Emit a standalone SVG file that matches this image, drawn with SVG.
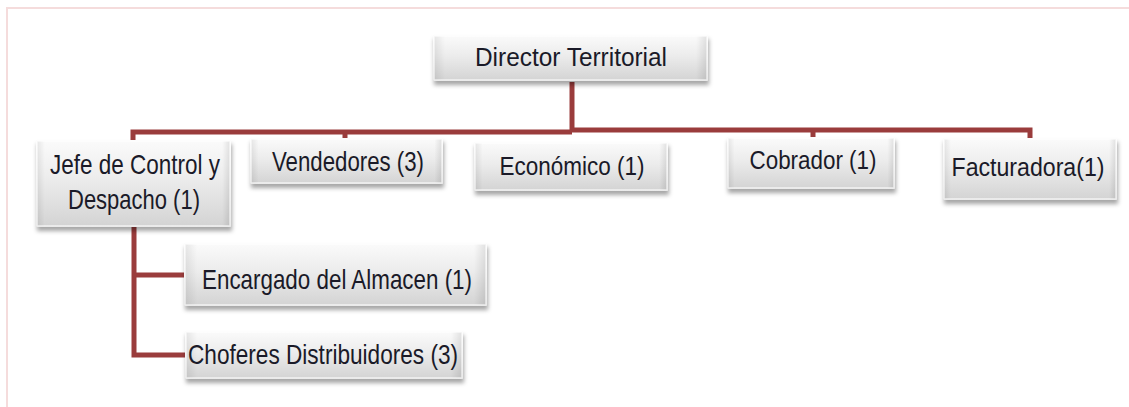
<svg xmlns="http://www.w3.org/2000/svg" width="1129" height="407" viewBox="0 0 1129 407">
<defs>
<linearGradient id="g" x1="0" y1="0" x2="0" y2="1">
<stop offset="0" stop-color="#fbfbfb"/>
<stop offset="0.45" stop-color="#ececec"/>
<stop offset="1" stop-color="#d3d3d3"/>
</linearGradient>
<linearGradient id="side" x1="0" y1="0" x2="1" y2="0">
<stop offset="0" stop-color="#000" stop-opacity="0.08"/>
<stop offset="0.04" stop-color="#000" stop-opacity="0"/>
<stop offset="0.96" stop-color="#000" stop-opacity="0"/>
<stop offset="1" stop-color="#000" stop-opacity="0.1"/>
</linearGradient>
<filter id="sh" x="-10%" y="-20%" width="120%" height="150%">
<feDropShadow dx="1" dy="4" stdDeviation="2" flood-color="#000" flood-opacity="0.35"/>
</filter>
</defs>
<style>
.box{fill:url(#g);filter:url(#sh)}
.bev{fill:url(#side);stroke:#ffffff;stroke-opacity:0.7;stroke-width:1.5}
.t{font-family:"Liberation Sans",Arial,sans-serif;fill:#1a1a28;text-anchor:middle}
.c{fill:none;stroke:#9a3c3c;stroke-width:5;stroke-linejoin:miter}
.frame{fill:none;stroke:#f5dcdc;stroke-width:2}
</style>
<rect width="1129" height="407" fill="#ffffff"/>
<path class="frame" d="M7,407 V8 H1129"/>
<g id="connectors">
<path class="c" d="M572,82 V132"/>
<path class="c" d="M133,145 V132 H572"/>
<path class="c" d="M570,130 H1030 V142"/>
<path class="c" d="M345,132 V142"/>
<path class="c" d="M813,130 V142"/>
<path class="c" d="M134,226 V355 H188"/>
<path class="c" d="M134,275 H188"/>
</g>
<g id="n-director">
<rect class="box" x="433" y="35" width="275" height="46"/>
<rect class="bev" x="434" y="36" width="273" height="44"/>
<text class="t" x="571" y="66" font-size="25" textLength="192" lengthAdjust="spacingAndGlyphs">Director Territorial</text>
</g>
<g id="n-jefe">
<rect class="box" x="36" y="140" width="195" height="87"/>
<rect class="bev" x="37" y="141" width="193" height="85"/>
<text class="t" x="135" y="174" font-size="28.5" textLength="170" lengthAdjust="spacingAndGlyphs">Jefe de Control y</text>
<text class="t" x="134" y="209" font-size="28.5" textLength="132" lengthAdjust="spacingAndGlyphs">Despacho (1)</text>
</g>
<g id="n-vendedores">
<rect class="box" x="250" y="138" width="193" height="46"/>
<rect class="bev" x="251" y="139" width="191" height="44"/>
<text class="t" x="348" y="171" font-size="28.5" textLength="152" lengthAdjust="spacingAndGlyphs">Vendedores (3)</text>
</g>
<g id="n-economico">
<rect class="box" x="474" y="142" width="194" height="49"/>
<rect class="bev" x="475" y="143" width="192" height="47"/>
<text class="t" x="572" y="175" font-size="25.5" textLength="145" lengthAdjust="spacingAndGlyphs">Económico (1)</text>
</g>
<g id="n-cobrador">
<rect class="box" x="727" y="137" width="168" height="52"/>
<rect class="bev" x="728" y="138" width="166" height="50"/>
<text class="t" x="813" y="169" font-size="25.5" textLength="127" lengthAdjust="spacingAndGlyphs">Cobrador (1)</text>
</g>
<g id="n-facturadora">
<rect class="box" x="943" y="138" width="174" height="62"/>
<rect class="bev" x="944" y="139" width="172" height="60"/>
<text class="t" x="1028" y="176" font-size="26.5" textLength="153" lengthAdjust="spacingAndGlyphs">Facturadora(1)</text>
</g>
<g id="n-encargado">
<rect class="box" x="184" y="243" width="303" height="63"/>
<rect class="bev" x="185" y="244" width="301" height="61"/>
<text class="t" x="337" y="289" font-size="28.5" textLength="270" lengthAdjust="spacingAndGlyphs">Encargado del Almacen (1)</text>
</g>
<g id="n-choferes">
<rect class="box" x="185" y="331" width="278" height="48"/>
<rect class="bev" x="186" y="332" width="276" height="46"/>
<text class="t" x="323" y="364" font-size="28.5" textLength="270" lengthAdjust="spacingAndGlyphs">Choferes Distribuidores (3)</text>
</g>
</svg>
